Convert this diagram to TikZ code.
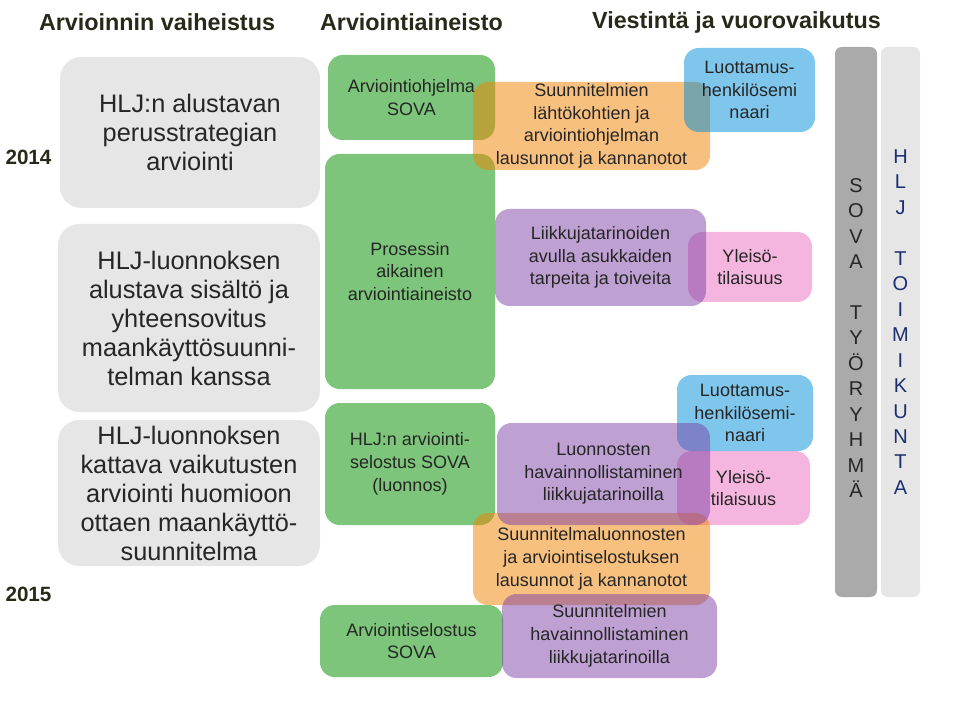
\documentclass[tikz,border=0pt]{standalone}
\usepackage{fontspec}
\setmainfont{Liberation Sans}
\usepackage{xcolor}
\definecolor{headtext}{HTML}{29291A}
\definecolor{boxtext}{HTML}{262626}
\definecolor{phasegray}{HTML}{E6E6E6}
\definecolor{matgreen}{HTML}{7DC57A}
\definecolor{statorange}{HTML}{EF8200}
\definecolor{seminarblue}{HTML}{008DD9}
\definecolor{storypurple}{HTML}{7D41A5}
\definecolor{publicpink}{HTML}{E96DBD}
\definecolor{sovabar}{HTML}{AAAAAA}
\definecolor{hljbar}{HTML}{E6E6E6}
\definecolor{hljtext}{HTML}{1B2F6F}

\begin{document}
\begin{tikzpicture}[
  x=0.75pt, y=-0.75pt,
  heading/.style={font=\fontsize{17.5}{21}\selectfont\bfseries, text=headtext, inner sep=0pt},
  year/.style={font=\fontsize{15.5}{18}\selectfont\bfseries, text=headtext, inner sep=0pt},
  phase/.style={fill=phasegray, rounded corners=16pt, align=center, inner sep=0pt,
    text=boxtext, font=\fontsize{19}{21.75}\selectfont},
  material/.style={fill=matgreen, rounded corners=11pt, align=center, inner sep=0pt,
    text=boxtext, font=\fontsize{13.5}{17}\selectfont},
  comm/.style={rounded corners=11pt, fill opacity=0.5, text opacity=1, align=center,
    inner sep=0pt, text=boxtext, font=\fontsize{13.5}{17}\selectfont},
  statement/.style={comm, fill=statorange},
  seminar/.style={comm, fill=seminarblue},
  story/.style={comm, fill=storypurple},
  public/.style={comm, fill=publicpink},
  groupbar/.style={rounded corners=5pt, inner sep=0pt, minimum height=412.5pt},
  barletters/.style={align=center, inner sep=0pt, font=\fontsize{15}{19.1}\selectfont}
]
\useasboundingbox (0,0) rectangle (960,720);

\node[heading] (hphase) at (157,22) {Arvioinnin vaiheistus};
\node[heading] (hmaterial) at (411.5,22) {Arviointiaineisto};
\node[heading] (hcomm) at (736.5,22) {Viestintä ja vuorovaikutus};

\node[year] (y2014) at (28.5,157) {2014};
\node[year] (y2015) at (28.5,594) {2015};

\node[phase, minimum width=195pt, minimum height=113.25pt] (strategy) at (190,132.5)
  {HLJ:n alustavan\\perusstrategian\\arviointi};
\node[phase, minimum width=196.5pt, minimum height=141pt] (draftcontent) at (189,318)
  {HLJ-luonnoksen\\alustava sisältö ja\\yhteensovitus\\maankäyttösuunni-\\telman kanssa};
\node[phase, minimum width=196.5pt, minimum height=109.5pt] (fullassess) at (189,493)
  {HLJ-luonnoksen\\kattava vaikutusten\\arviointi huomioon\\ottaen maankäyttö-\\suunnitelma};

\node[material, minimum width=125.25pt, minimum height=63.75pt] (programme) at (411.5,97.5)
  {Arviointiohjelma\\SOVA};
\node[material, minimum width=127.5pt, minimum height=176.25pt] (process) at (410,271.5)
  {Prosessin\\aikainen\\arviointiaineisto};
\node[material, minimum width=127.5pt, minimum height=91.5pt] (draftreport) at (410,464)
  {HLJ:n arviointi-\\selostus SOVA\\(luonnos)};
\node[material, minimum width=137.25pt, minimum height=54pt] (finalreport) at (411.5,641)
  {Arviointiselostus\\SOVA};

\node[statement, minimum width=177.75pt, minimum height=66pt] (startstatements) at (591.5,126)
  {Suunnitelmien\\lähtökohtien ja\\arviointiohjelman\\lausunnot ja kannanotot};
\node[seminar, minimum width=98.25pt, minimum height=63pt] (seminarA) at (749.5,90)
  {Luottamus-\\henkilösemi\\naari};
\node[public, minimum width=93pt, minimum height=52.5pt] (publicA) at (750,267)
  {Yleisö-\\tilaisuus};
\node[story, minimum width=158.25pt, minimum height=72.75pt] (storiesA) at (600.5,257.5)
  {Liikkujatarinoiden\\avulla asukkaiden\\tarpeita ja toiveita};
\node[seminar, minimum width=102pt, minimum height=57pt] (seminarB) at (745,413)
  {Luottamus-\\henkilösemi-\\naari};
\node[public, minimum width=99.75pt, minimum height=55.5pt] (publicB) at (743.5,488)
  {Yleisö-\\tilaisuus};
\node[statement, minimum width=177.75pt, minimum height=69pt] (draftstatements) at (591.5,559)
  {Suunnitelmaluonnosten\\ja arviointiselostuksen\\lausunnot ja kannanotot};
\node[story, minimum width=159.75pt, minimum height=76.5pt] (storiesB) at (603.5,474)
  {Luonnosten\\havainnollistaminen\\liikkujatarinoilla};
\node[story, minimum width=161.25pt, minimum height=63pt] (storiesC) at (609.5,636)
  {Suunnitelmien\\havainnollistaminen\\liikkujatarinoilla};

\node[groupbar, fill=sovabar, minimum width=31.5pt] (sova) at (856,322) {};
\node[groupbar, fill=hljbar, minimum width=29.25pt] (hlj) at (900.5,322) {};
\node[barletters, text=boxtext] (sovaletters) at (856,338)
  {S\\O\\V\\A\\\mbox{}\\T\\Y\\Ö\\R\\Y\\H\\M\\Ä};
\node[barletters, text=hljtext] (hljletters) at (900.5,322)
  {H\\L\\J\\\mbox{}\\T\\O\\I\\M\\I\\K\\U\\N\\T\\A};

\end{tikzpicture}
\end{document}
